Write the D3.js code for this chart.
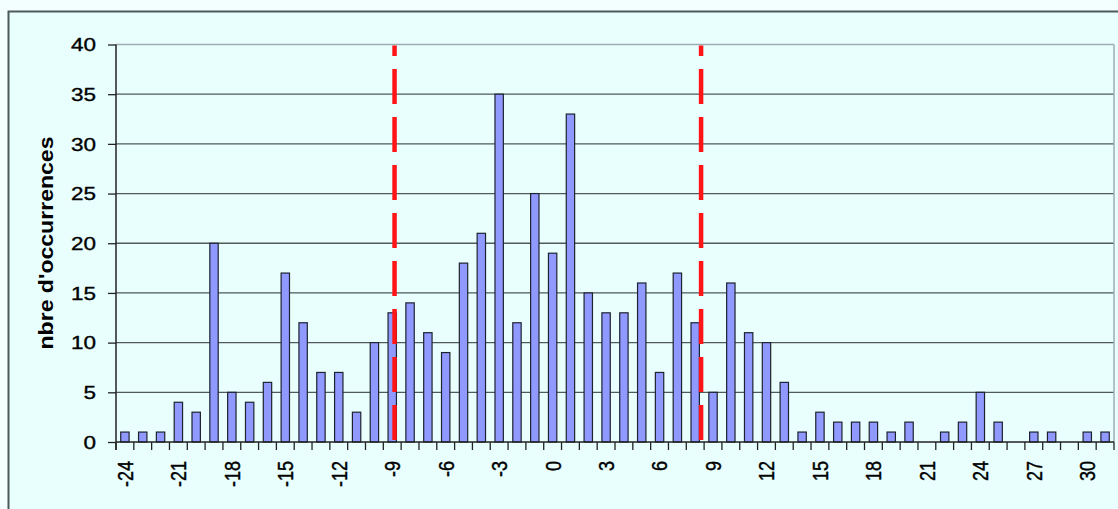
<!DOCTYPE html>
<html>
<head>
<meta charset="utf-8">
<script src="https://cdn.jsdelivr.net/npm/d3@7"></script>
<style>
  body { margin: 0; background: #f2fffe; overflow: hidden; }
  svg text { font-family: "Liberation Sans", Arial, sans-serif; fill: #000; }
  .tick text { stroke: #000; stroke-width: 0.35px; }
</style>
</head>
<body>
<div id="graf"></div>
<script>
// I. Datos

categorias = [-24, -23, -22, -21, -20, -19, -18, -17, -16, -15, -14, -13, -12, -11,
  -10, -9, -8, -7, -6, -5, -4, -3, -2, -1, 0, 1, 2, 3, 4, 5, 6, 7, 8, 9, 10, 11,
  12, 13, 14, 15, 16, 17, 18, 19, 20, 21, 22, 23, 24, 25, 26, 27, 28, 29, 30, 31]

ocurrencias = [1, 1, 1, 4, 3, 20, 5, 4, 6, 17, 12, 7, 7, 3,
  10, 13, 14, 11, 9, 18, 21, 35, 12, 25, 19, 33, 15, 13, 13, 16, 7, 17, 12, 5, 16, 11,
  10, 6, 1, 3, 2, 2, 2, 1, 2, 0, 1, 2, 5, 2, 0, 1, 1, 0, 1, 1]

etiquetasX = [-24, -21, -18, -15, -12, -9, -6, -3, 0, 3, 6, 9, 12, 15, 18, 21, 24, 27, 30]
ticksY = [0, 5, 10, 15, 20, 25, 30, 35, 40]

// lineas rojas (limites)
limites = [-8.87, 8.33]

tituloY = "nbre d'occurrences"

// II. Configuracion

ancho_total = 1118
alto_total = 509
margins = { top: 44.5, left: 116, right: 4, bottom: 67 }
ancho = ancho_total - margins.left - margins.right
alto = alto_total - margins.top - margins.bottom

svg = d3.select('#graf').append('svg')
  .attr('width', ancho_total)
  .attr('height', alto_total)

// marco exterior
svg.append('rect')
  .attr('x', 8.5).attr('y', 11.5)
  .attr('width', 1200).attr('height', 600)
  .attr('fill', '#e8fffe')
  .attr('stroke', '#4d5a5a')
  .attr('stroke-width', 2)

g = svg.append('g')
  .attr('transform', `translate(${margins.left}, ${margins.top})`)

// Escaladores
x = d3.scaleBand()
  .domain(categorias)
  .range([0, ancho])
  .paddingInner(0.53)
  .paddingOuter(0.265)

y = d3.scaleLinear().domain([0, 40]).range([alto, 0])

// posicion continua (centro de cada categoria)
xl = d3.scaleLinear()
  .domain([categorias[0], categorias[categorias.length - 1]])
  .range([x(categorias[0]) + x.bandwidth() / 2, x(categorias[categorias.length - 1]) + x.bandwidth() / 2])

// grilla
g.append('g')
  .selectAll('line')
  .data(ticksY.filter(d => d > 0 && d < 40))
  .join('line')
  .attr('x1', 0).attr('x2', ancho)
  .attr('y1', d => y(d)).attr('y2', d => y(d))
  .attr('stroke', '#505a5a')
  .attr('stroke-width', 1.3)

// borde del area
g.append('line')
  .attr('x1', 0).attr('x2', ancho)
  .attr('y1', y(40)).attr('y2', y(40))
  .attr('stroke', '#9eacb4').attr('stroke-width', 1.5)
g.append('line')
  .attr('x1', ancho).attr('x2', ancho)
  .attr('y1', y(40)).attr('y2', alto)
  .attr('stroke', '#9eacb4').attr('stroke-width', 1.5)

// barras
datos = categorias.map((c, i) => ({ c: c, v: ocurrencias[i] }))

g.selectAll('rect.barra')
  .data(datos.filter(d => d.v > 0))
  .join('rect')
  .attr('class', 'barra')
  .attr('x', d => x(d.c))
  .attr('y', d => y(d.v))
  .attr('width', x.bandwidth())
  .attr('height', d => alto - y(d.v))
  .attr('fill', '#8f99ff')
  .attr('stroke', '#1e2230')
  .attr('stroke-width', 1.2)

// lineas rojas
g.selectAll('line.limite')
  .data(limites)
  .join('line')
  .attr('class', 'limite')
  .attr('x1', d => xl(d)).attr('x2', d => xl(d))
  .attr('y1', alto - 2).attr('y2', y(40) + 1)
  .attr('stroke', '#ff1418')
  .attr('stroke-width', 4.5)
  .attr('stroke-dasharray', '35,13')

// eje Y
yAxisGroup = g.append('g')
  .call(d3.axisLeft(y).tickValues(ticksY).tickSize(8).tickSizeOuter(0))
yAxisGroup.select('.domain').remove()
yAxisGroup.selectAll('line').attr('stroke', '#222').attr('stroke-width', 1.3)
yAxisGroup.selectAll('text')
  .attr('x', null)
  .attr('dy', '0.35em')
  .attr('transform', 'translate(-20,0) scale(1.25,1)')
  .attr('text-anchor', 'end')
  .style('font-size', '18px')

g.append('line')
  .attr('x1', 0).attr('x2', 0)
  .attr('y1', y(40)).attr('y2', alto + 8)
  .attr('stroke', '#222').attr('stroke-width', 1.5)

// eje X
g.append('line')
  .attr('x1', 0).attr('x2', ancho)
  .attr('y1', alto).attr('y2', alto)
  .attr('stroke', '#222').attr('stroke-width', 1.5)

bordes = categorias.map(c => x(c) - x.step() * x.paddingInner() / 2)
bordes.push(ancho)

g.append('g')
  .selectAll('line')
  .data(bordes)
  .join('line')
  .attr('x1', d => d).attr('x2', d => d)
  .attr('y1', alto).attr('y2', alto + 8)
  .attr('stroke', '#222').attr('stroke-width', 1.3)

xAxisGroup = g.append('g')
  .attr('transform', `translate(0, ${alto})`)
  .call(d3.axisBottom(x).tickValues(etiquetasX).tickSize(0))
xAxisGroup.select('.domain').remove()
xAxisGroup.selectAll('text')
  .attr('y', null)
  .attr('dy', '0.35em')
  .attr('transform', 'translate(0,19) scale(1.25,1) rotate(-90)')
  .attr('text-anchor', 'end')
  .style('font-size', '18px')

// titulo eje Y
svg.append('text')
  .attr('transform', 'translate(46,243) rotate(-90)')
  .attr('text-anchor', 'middle')
  .attr('dy', '0.35em')
  .attr('textLength', 213)
  .attr('lengthAdjust', 'spacingAndGlyphs')
  .style('font-size', '20px')
  .style('font-weight', 'bold')
  .text(tituloY)
</script>
</body>
</html>
